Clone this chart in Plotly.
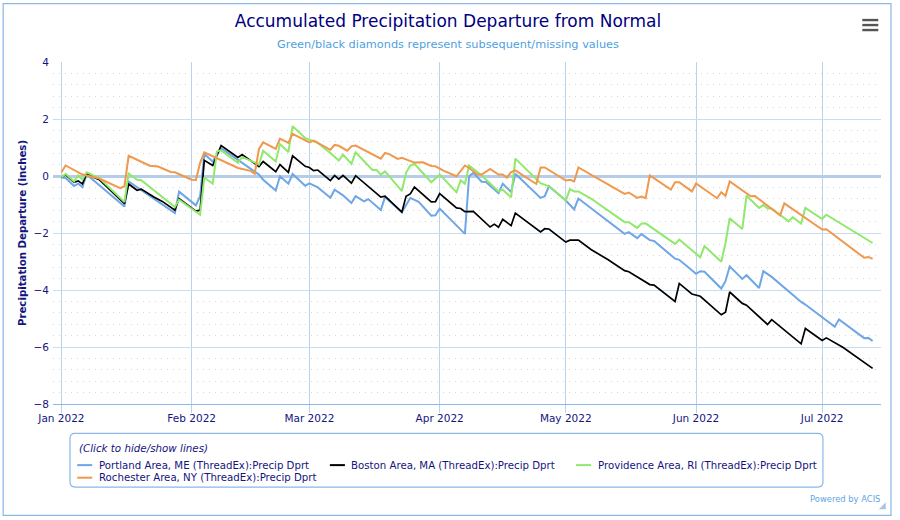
import pandas as pd
import plotly.graph_objects as go

W = 900
H = 520
L, R, T, B = 53.3, 880.7, 62, 404.5

START = pd.Timestamp("2022-01-01")

# days since Jan 1 and departure (inches), read at the line's turning points
portland_days = [0, 1, 3, 4, 5, 6, 15, 16, 27, 28, 32, 33, 34, 36, 38, 47, 48, 51, 52, 54, 55, 58, 59, 61, 64, 65,
                 67, 69, 70, 72, 73, 76, 77, 81, 83, 85, 88, 89, 90, 96, 97, 98, 100, 101, 104, 105, 107, 108, 114,
                 115, 116, 120, 122, 123, 134, 135, 137, 138, 140, 141, 146, 147, 151, 152, 153, 157, 158, 159, 162,
                 163, 166, 167, 169, 176, 177, 184, 185, 191, 192, 193]
portland_vals = [-0.05, -0.07, -0.35, -0.27, -0.39, 0.05, -1.07, -0.19, -1.30, -0.55, -1.03, -0.71, 0.77, 0.51, 0.98,
                 0.05, -0.13, -0.51, -0.01, -0.27, 0.07, -0.34, -0.26, -0.40, -0.76, -0.48, -0.68, -0.95, -0.71,
                 -0.89, -0.81, -1.19, -0.74, -1.27, -0.77, -0.91, -1.39, -1.38, -1.14, -2.03, -0.01, 0.11, -0.20,
                 -0.21, -0.60, -0.27, -0.56, 0.08, -0.77, -0.71, -0.36, -0.86, -1.17, -0.79, -2.03, -1.97, -2.18,
                 -2.04, -2.25, -2.28, -2.90, -2.94, -3.43, -3.34, -3.36, -3.95, -3.69, -3.17, -3.61, -3.48, -3.93,
                 -3.34, -3.54, -4.42, -4.51, -5.29, -5.03, -5.69, -5.68, -5.79]

boston_days = [0, 1, 3, 4, 5, 6, 8, 9, 15, 16, 18, 19, 22, 24, 27, 28, 32, 33, 34, 36, 38, 42, 43, 47, 48, 51, 52, 54,
               55, 58, 59, 60, 61, 64, 65, 66, 67, 69, 70, 76, 77, 81, 82, 83, 84, 88, 89, 90, 94, 95, 96, 98, 102,
               103, 104, 105, 107, 108, 114, 115, 116, 120, 121, 123, 126, 130, 134, 135, 140, 141, 146, 147, 150,
               152, 157, 158, 159, 162, 163, 168, 169, 176, 177, 181, 182, 184, 186, 193]
boston_vals = [-0.05, 0.05, -0.22, -0.17, -0.28, 0.08, -0.07, -0.13, -0.97, -0.28, -0.50, -0.46, -0.74, -0.89, -1.20,
               -0.79, -1.23, -1.20, 0.55, 0.37, 1.07, 0.65, 0.75, 0.33, 0.51, 0.15, 0.40, 0.13, 0.71, 0.34, 0.30, 0.19,
               0.21, -0.16, 0.02, -0.11, 0.02, -0.25, 0.01, -0.74, -0.71, -1.27, -0.71, -0.63, -0.39, -0.91, -0.90,
               -0.62, -1.12, -1.14, -1.25, -1.24, -1.79, -1.69, -1.80, -1.52, -1.74, -1.30, -1.96, -1.85, -1.86,
               -2.32, -2.25, -2.25, -2.58, -2.93, -3.32, -3.36, -3.81, -3.83, -4.40, -3.77, -4.14, -4.22, -4.87,
               -4.78, -4.07, -4.47, -4.53, -5.21, -5.04, -5.89, -5.35, -5.77, -5.68, -5.86, -6.02, -6.75]

providence_days = [0, 1, 3, 4, 5, 6, 9, 15, 16, 18, 19, 27, 28, 33, 34, 36, 37, 38, 42, 43, 47, 48, 51, 52, 54, 55, 58,
                   61, 64, 66, 67, 69, 70, 74, 75, 76, 77, 81, 82, 83, 84, 88, 90, 94, 95, 96, 97, 100, 104, 105, 107,
                   108, 114, 116, 120, 121, 122, 123, 126, 134, 135, 137, 138, 139, 146, 147, 152, 153, 157, 158, 159,
                   162, 163, 166, 167, 168, 169, 173, 174, 176, 177, 181, 182, 193]
providence_vals = [-0.05, 0.08, -0.19, 0.02, -0.13, 0.13, -0.07, -0.91, 0.09, -0.13, -0.15, -1.09, -0.83, -1.36, -0.05,
                   -0.27, 0.86, 0.90, 0.46, 0.67, 0.40, 0.89, 0.51, 1.12, 0.84, 1.75, 1.33, 1.16, 0.81, 0.54, 0.75,
                   0.43, 0.83, 0.21, 0.21, 0.05, 0.16, -0.53, 0.11, 0.37, 0.43, -0.22, 0.05, -0.57, -0.15, -0.27, 0.37,
                   0.02, -0.54, -0.48, -0.75, 0.61, -0.25, -0.36, -0.86, -0.46, -0.54, -0.54, -0.79, -1.62, -1.62,
                   -1.82, -1.67, -1.66, -2.38, -2.23, -2.85, -2.46, -3.01, -2.35, -1.48, -1.86, -0.69, -1.12, -1.02,
                   -1.14, -1.14, -1.59, -1.45, -1.67, -1.12, -1.51, -1.36, -2.35]

rochester_days = [0, 1, 5, 9, 14, 15, 16, 21, 23, 26, 27, 31, 32, 33, 34, 38, 40, 42, 45, 46, 47, 48, 51, 52, 54, 55,
                  59, 60, 64, 65, 66, 68, 69, 70, 76, 77, 78, 80, 81, 84, 86, 88, 89, 91, 94, 96, 97, 99, 100, 102,
                  104, 105, 106, 107, 108, 113, 114, 115, 120, 121, 122, 123, 134, 135, 137, 138, 139, 140, 145, 146,
                  147, 150, 151, 156, 157, 158, 159, 164, 165, 171, 172, 181, 182, 191, 192, 193]
rochester_vals = [0.13, 0.37, 0.05, -0.09, -0.43, -0.36, 0.71, 0.36, 0.33, 0.14, 0.13, -0.13, -0.14, 0.46, 0.83, 0.55,
                  0.41, 0.28, 0.18, 0.08, 0.95, 1.18, 0.95, 1.31, 1.16, 1.48, 1.18, 1.24, 0.92, 1.09, 1.06, 0.89, 1.04,
                  1.07, 0.61, 0.81, 0.77, 0.60, 0.64, 0.47, 0.48, 0.35, 0.34, 0.18, -0.01, 0.37, 0.28, 0.05, 0.05,
                  0.25, 0.05, 0.05, -0.06, 0.14, 0.20, -0.28, 0.30, 0.30, -0.16, -0.13, -0.19, 0.30, -0.63, -0.58,
                  -0.77, -0.72, -0.78, 0.02, -0.48, -0.22, -0.22, -0.54, -0.26, -0.78, -0.57, -0.70, -0.19, -0.71,
                  -0.70, -1.38, -0.96, -1.88, -1.87, -2.87, -2.84, -2.91]

names = ["Portland Area, ME (ThreadEx):Precip Dprt", "Boston Area, MA (ThreadEx):Precip Dprt",
         "Providence Area, RI (ThreadEx):Precip Dprt", "Rochester Area, NY (ThreadEx):Precip Dprt"]
colors = ["#6ea6e6", "#000000", "#90e86c", "#f0984c"]
widths = [2, 1.7, 2, 2]

FONT = "DejaVu Sans"
NAVY = "#14147e"
BORDER = "#8ab8e8"


def xp(x):
    return (x - L) / (R - L)


def yp(y):
    return (B - y) / (B - T)


def dates(days):
    return [START + pd.Timedelta(days=d) for d in days]


def rounded(x0, y0, x1, y1, r):
    pts = [f"M {xp(x0 + r)} {yp(y0)}", f"L {xp(x1 - r)} {yp(y0)}", f"Q {xp(x1)} {yp(y0)} {xp(x1)} {yp(y0 + r)}",
           f"L {xp(x1)} {yp(y1 - r)}", f"Q {xp(x1)} {yp(y1)} {xp(x1 - r)} {yp(y1)}", f"L {xp(x0 + r)} {yp(y1)}",
           f"Q {xp(x0)} {yp(y1)} {xp(x0)} {yp(y1 - r)}", f"L {xp(x0)} {yp(y0 + r)}",
           f"Q {xp(x0)} {yp(y0)} {xp(x0 + r)} {yp(y0)}", "Z"]
    return " ".join(pts)


fig = go.Figure()
series = [(portland_days, portland_vals), (boston_days, boston_vals),
          (providence_days, providence_vals), (rochester_days, rochester_vals)]
for (d, v), name, c, w in zip(series, names, colors, widths):
    fig.add_trace(go.Scatter(x=dates(d), y=v, mode="lines", name=name, line=dict(color=c, width=w)))

shapes = [
    # outer frame
    dict(type="rect", xref="paper", yref="paper", x0=xp(3.5), x1=xp(890.7), y0=yp(516), y1=yp(3.5),
         line=dict(color=BORDER, width=1.2)),
    # legend box
    dict(type="path", xref="paper", yref="paper", path=rounded(70.3, 434, 822.7, 487.7, 5),
         line=dict(color=BORDER, width=1.2)),
    # resize grip
    dict(type="path", xref="paper", yref="paper", fillcolor="#a9c4e4", line=dict(width=0),
         path=f"M {xp(885.5)} {yp(503)} L {xp(885.5)} {yp(510)} L {xp(878.5)} {yp(510)} Z"),
]
# menu icon
for y in (20, 25, 30):
    shapes.append(dict(type="line", xref="paper", yref="paper", x0=xp(862), x1=xp(878), y0=yp(y), y1=yp(y),
                       line=dict(color="#555555", width=2.4)))

annotations = [
    dict(text="Green/black diamonds represent subsequent/missing values", x=xp(448), y=yp(44.5),
         font=dict(size=11.3, color="#4f9fe0")),
    dict(text="<i>(Click to hide/show lines)</i>", x=xp(78), y=yp(448.5), xanchor="left",
         font=dict(size=10.3, color=NAVY)),
    dict(text="Powered by ACIS", x=xp(880.5), y=yp(499.5), xanchor="right", font=dict(size=8.4, color="#5fa5e4")),
]

# legend rows, drawn by hand so the keys stay short like the original
legend_rows = [(77.5, 465.7, 0), (330, 465.7, 1), (576, 465.7, 2), (77.5, 478.3, 3)]
for lx, ly, i in legend_rows:
    shapes.append(dict(type="line", xref="paper", yref="paper", x0=xp(lx), x1=xp(lx + 15), y0=yp(ly), y1=yp(ly),
                       line=dict(color=colors[i], width=2)))
    annotations.append(dict(text=names[i], x=xp(lx + 20.5), y=yp(ly), xanchor="left",
                            font=dict(size=10.2, color=NAVY)))

for a in annotations:
    a.update(xref="paper", yref="paper", yanchor="middle", showarrow=False, xshift=0, borderpad=0)

fig.update_layout(
    width=W, height=H, autosize=False, showlegend=False,
    paper_bgcolor="white", plot_bgcolor="white",
    margin=dict(l=L, r=W - R, t=T, b=H - B, pad=0),
    font=dict(family=FONT, color=NAVY),
    title=dict(text="Accumulated Precipitation Departure from Normal", x=448 / W, xanchor="center",
               y=1 - 21 / H, yanchor="middle", font=dict(size=17, color="#000080")),
    shapes=shapes, annotations=annotations,
)
fig.update_xaxes(
    range=["2021-12-30", "2022-07-15"], tick0="2022-01-01", dtick="M1", tickformat="%b %Y",
    showgrid=True, gridcolor="#b9d3ee", gridwidth=1, zeroline=False,
    showline=True, linecolor=BORDER, linewidth=1,
    ticks="outside", ticklen=8, tickcolor="#b9d3ee", tickfont=dict(size=10.5, color=NAVY),
    ticklabelstandoff=-4,
)
fig.update_yaxes(
    range=[-8, 4], tick0=0, dtick=2, showgrid=True, gridcolor="#c8dcf2", gridwidth=1,
    zeroline=True, zerolinecolor="#b5cde8", zerolinewidth=3, showline=False, ticks="",
    tickfont=dict(size=10.5, color=NAVY), ticklabelstandoff=3,
    title=dict(text="<b>Precipitation Departure (inches)</b>", font=dict(size=10.2, color=NAVY), standoff=4),
    minor=dict(dtick=0.4, showgrid=True, gridcolor="#d6d6d6", griddash="1px,5px", gridwidth=1, ticks=""),
)

fig.write_html("out.html", post_script="document.body.style.margin='0';", config={"displayModeBar": False})
